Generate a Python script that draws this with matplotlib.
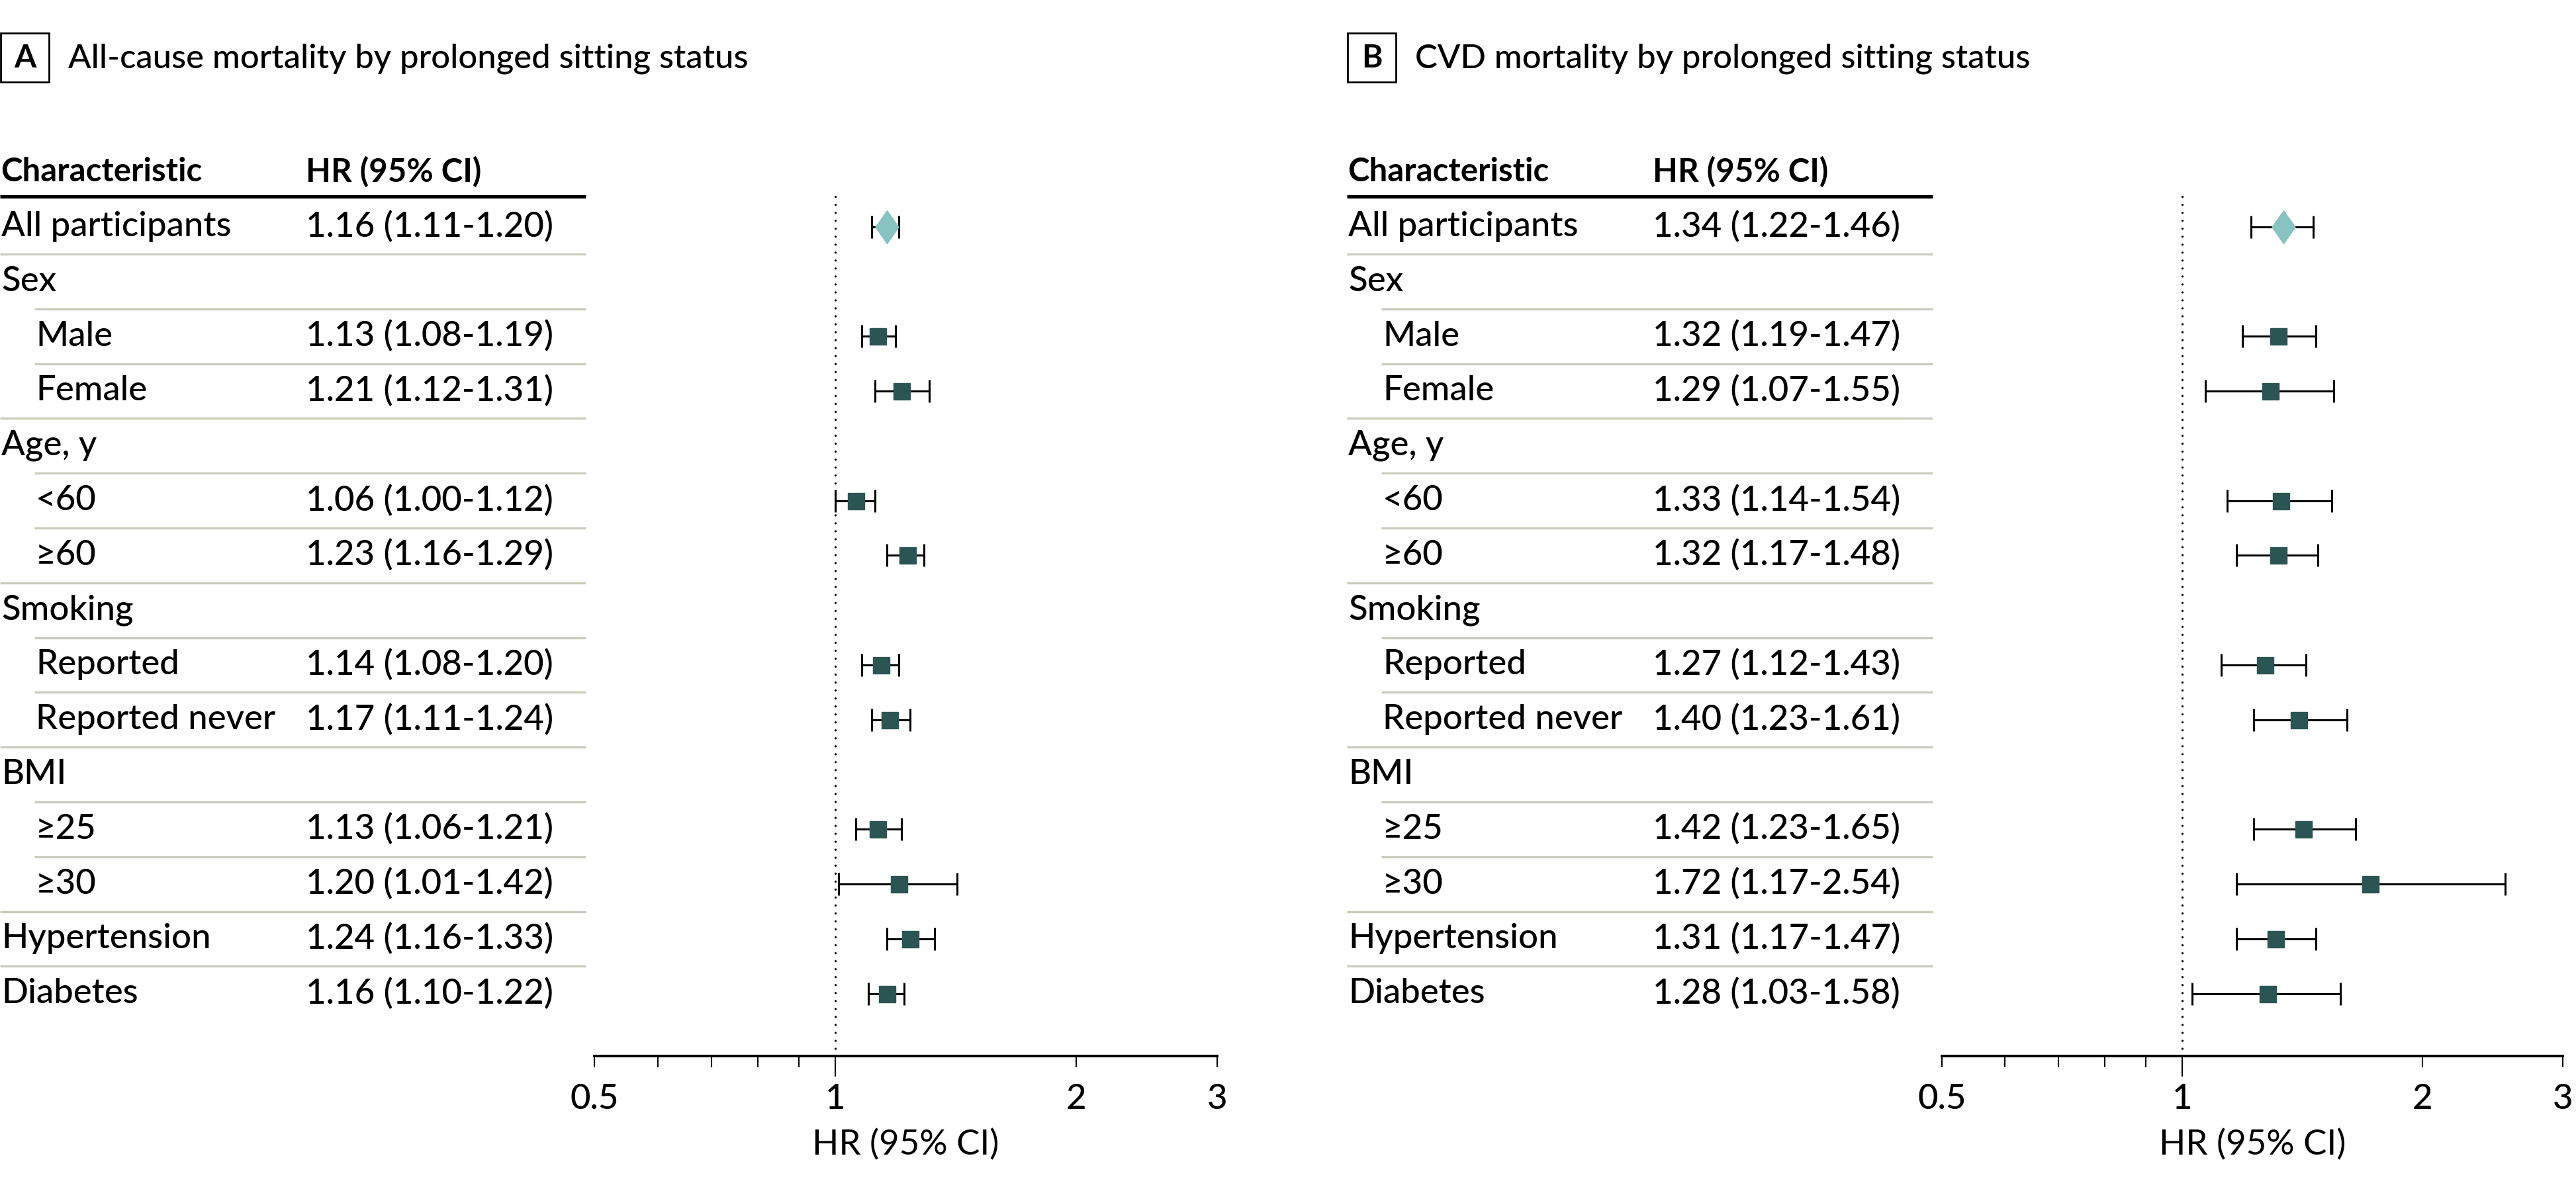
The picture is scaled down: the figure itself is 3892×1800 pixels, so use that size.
import matplotlib
matplotlib.use("Agg")
import matplotlib.pyplot as plt
import matplotlib.transforms as mtransforms
from matplotlib.path import Path
from matplotlib.patches import Rectangle

plt.rcParams['font.family'] = ['Lato', 'DejaVu Sans']
plt.rcParams['font.weight'] = 'medium'

# rows of the table (same in both panels)
labels = ["All participants", "Sex", "Male", "Female", "Age, y", "<60", "\u226560",
          "Smoking", "Reported", "Reported never", "BMI", "\u226525", "\u226530",
          "Hypertension", "Diabetes"]
indent = [0, 0, 1, 1, 0, 1, 1, 0, 1, 1, 0, 1, 1, 0, 0]

# panel A: all-cause mortality
hr_a = [1.16, None, 1.13, 1.21, None, 1.06, 1.23, None, 1.14, 1.17, None, 1.13, 1.20, 1.24, 1.16]
lo_a = [1.11, None, 1.08, 1.12, None, 1.00, 1.16, None, 1.08, 1.11, None, 1.06, 1.01, 1.16, 1.10]
hi_a = [1.20, None, 1.19, 1.31, None, 1.12, 1.29, None, 1.20, 1.24, None, 1.21, 1.42, 1.33, 1.22]

# panel B: CVD mortality
hr_b = [1.34, None, 1.32, 1.29, None, 1.33, 1.32, None, 1.27, 1.40, None, 1.42, 1.72, 1.31, 1.28]
lo_b = [1.22, None, 1.19, 1.07, None, 1.14, 1.17, None, 1.12, 1.23, None, 1.23, 1.17, 1.17, 1.03]
hi_b = [1.46, None, 1.47, 1.55, None, 1.54, 1.48, None, 1.43, 1.61, None, 1.65, 2.54, 1.47, 1.58]

panels = [
    ("A", "All-cause mortality by prolonged sitting status", hr_a, lo_a, hi_a),
    ("B", "CVD mortality by prolonged sitting status", hr_b, lo_b, hi_b),
]

W, H = 3892, 1800
fig = plt.figure(figsize=(W / 100, H / 100), dpi=100)

SQ = "#2b5553"
DIA = "#86c3c1"
SEP = "#c9ccbf"
FS = 38      # table text
FH = 35.5    # bold header
FT = 36.5    # panel title

diamond = Path([(0, 1), (0.7, 0), (0, -1), (-0.7, 0), (0, 1)],
               [Path.MOVETO, Path.LINETO, Path.LINETO, Path.LINETO, Path.CLOSEPOLY])

# pixel layout
row0 = 342.5       # y of first row (px from top)
drow = 82.8        # row spacing
axis_px = 1596
ybot = (axis_px - row0) / drow
ytop = -1.7
offsets = [0, 2035]
axis_x = [(898, 1839), (2934, 3872)]


def fx(px):
    return px / W


def fy(py):
    return 1 - py / H


for (letter, title, hr, lo, hi), off, (x0, x1) in zip(panels, offsets, axis_x):
    top_px = row0 + ytop * drow
    bot_px = axis_px
    ax = fig.add_axes([fx(x0), fy(bot_px), fx(x1 - x0), (bot_px - top_px) / H])
    ax.set_xscale("log")
    ax.set_xlim(0.5, 3)
    ax.set_ylim(ybot, ytop)
    for s in ["top", "right", "left"]:
        ax.spines[s].set_visible(False)
    ax.spines["bottom"].set_linewidth(2.8)
    ax.set_yticks([])
    ax.set_xticks([0.5, 1, 2, 3])
    ax.set_xticklabels(["0.5", "1", "2", "3"])
    ax.set_xticks([0.6, 0.7, 0.8, 0.9], minor=True)
    ax.xaxis.set_minor_formatter(plt.NullFormatter())
    ax.tick_params(axis="x", which="both", direction="out", length=12, width=1.5,
                   labelsize=FS, pad=18)
    ax.xaxis.get_major_ticks()[1].tick1line.set_markersize(22)
    ax.set_xlabel("HR (95% CI)", fontsize=FS)
    ax.xaxis.set_label_coords(0.5, -110 / (bot_px - top_px))
    ax.patch.set_visible(False)

    # reference line at HR = 1
    ax.plot([1, 1], [-0.55, ybot], color="black", lw=2.4,
            ls=(0, (0.01, 3.6)), dash_capstyle="round", clip_on=False)

    rows = list(range(len(labels)))
    for i in rows:
        if hr[i] is None:
            continue
        ax.errorbar([hr[i]], [i], xerr=[[hr[i] - lo[i]], [hi[i] - hr[i]]], fmt="none",
                    ecolor="black", elinewidth=2.2, capsize=12.5, capthick=2.2, zorder=3)
        if i == 0:
            ax.plot([hr[i]], [i], marker=diamond, ms=36, color=DIA, mec=DIA, ls="none", zorder=4)
        else:
            ax.plot([hr[i]], [i], marker="s", ms=18, color=SQ, mec=SQ, ls="none", zorder=4)

    # table, x in figure coords, y in row units
    tr = mtransforms.blended_transform_factory(fig.transFigure, ax.transData)
    ax.text(fx(off + 1), -1, "Characteristic", transform=tr, fontsize=FH,
            fontweight="bold", va="center", ha="left")
    ax.text(fx(off + 462), -1, "HR (95% CI)", transform=tr, fontsize=FH,
            fontweight="bold", va="center", ha="left")
    ax.plot([fx(off), fx(off + 885)], [-0.55, -0.55], transform=tr, color="black",
            lw=3.6, clip_on=False, solid_capstyle="butt")
    for i in rows:
        ax.text(fx(off + 2 + 52 * indent[i]), i, labels[i], transform=tr, fontsize=FS,
                va="center", ha="left")
        if hr[i] is not None:
            ax.text(fx(off + 462), i, "%.2f (%.2f-%.2f)" % (hr[i], lo[i], hi[i]),
                    transform=tr, fontsize=FS, va="center", ha="left")
        if i < len(rows) - 1:
            ax.plot([fx(off + 52 * indent[i + 1]), fx(off + 885)], [i + 0.5, i + 0.5],
                    transform=tr, color=SEP, lw=2.4, clip_on=False, solid_capstyle="butt")

    # panel letter box and title
    fig.add_artist(Rectangle((fx(off + 1), fy(124)), fx(73), 74 / H, transform=fig.transFigure,
                             fill=False, ec="black", lw=2.0))
    fig.text(fx(off + 37.5), fy(88), letter, fontsize=FT - 2, fontweight="bold",
             ha="center", va="center")
    fig.text(fx(off + 103), fy(89), title, fontsize=FT, ha="left", va="center")

fig.savefig("out.png", dpi=100)
